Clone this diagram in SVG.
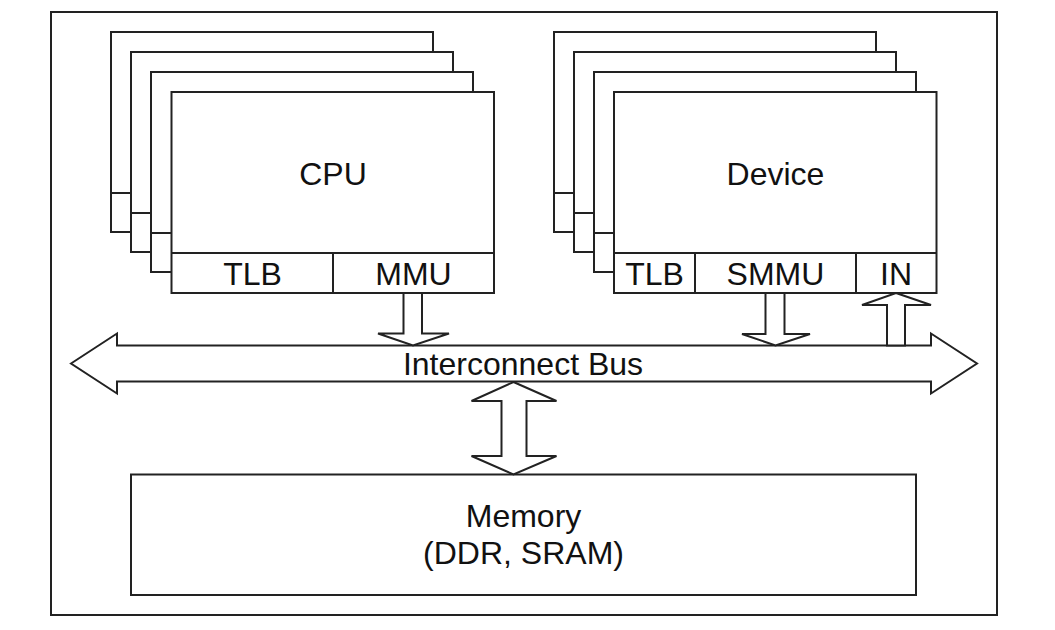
<svg xmlns="http://www.w3.org/2000/svg" width="1055" height="630" viewBox="0 0 1055 630">
<style>
.box{fill:#fff;stroke:#222;stroke-width:2}
.ln{stroke:#222;stroke-width:2;fill:none}
.arr{fill:#fff;stroke:#222;stroke-width:2;stroke-linejoin:miter}
.t{font-family:"Liberation Sans",Arial,sans-serif;font-size:32px;fill:#111;text-anchor:middle}
</style>
<rect width="1055" height="630" fill="#fff"/>
<rect id="frame" class="box" x="51" y="12" width="946" height="603"/>
<g id="cpu-stack">
<rect class="box" x="111" y="32" width="322" height="200"/><line class="ln" x1="111" y1="193" x2="433" y2="193"/>
<rect class="box" x="131" y="52" width="322" height="200"/><line class="ln" x1="131" y1="213" x2="453" y2="213"/>
<rect class="box" x="151" y="72" width="322" height="200"/><line class="ln" x1="151" y1="233" x2="473" y2="233"/>
</g>
<g id="cpu">
<rect class="box" x="171.5" y="92" width="322.5" height="201"/>
<line class="ln" x1="171.5" y1="253" x2="494" y2="253"/>
<line class="ln" x1="333" y1="253" x2="333" y2="293"/>
<text class="t" x="333" y="185">CPU</text>
<text class="t" x="252.5" y="285">TLB</text>
<text class="t" x="413.5" y="285">MMU</text>
</g>
<g id="device-stack">
<rect class="box" x="554" y="32" width="322" height="200"/><line class="ln" x1="554" y1="193" x2="876" y2="193"/>
<rect class="box" x="574" y="52" width="322" height="200"/><line class="ln" x1="574" y1="213" x2="896" y2="213"/>
<rect class="box" x="594" y="72" width="322" height="200"/><line class="ln" x1="594" y1="233" x2="916" y2="233"/>
</g>
<g id="device">
<rect class="box" x="614" y="92" width="322.5" height="201"/>
<line class="ln" x1="614" y1="253" x2="936.5" y2="253"/>
<line class="ln" x1="695" y1="253" x2="695" y2="293"/>
<line class="ln" x1="856" y1="253" x2="856" y2="293"/>
<text class="t" x="775.5" y="185">Device</text>
<text class="t" x="654.5" y="285">TLB</text>
<text class="t" x="775.5" y="285">SMMU</text>
<text class="t" x="896" y="285">IN</text>
</g>
<g id="bus">
<polygon class="arr" points="71,363.5 117,333.5 117,345.5 931,345.5 931,333.5 977,363.5 931,393.5 931,381.5 117,381.5 117,393.5"/>
<text class="t" x="523" y="375">Interconnect Bus</text>
</g>
<g id="memory">
<rect class="box" x="131" y="474.5" width="785" height="120.5"/>
<text class="t" x="523.5" y="527">Memory</text>
<text class="t" x="523.5" y="564">(DDR, SRAM)</text>
</g>
<g id="connectors">
<polygon class="arr" points="403.5,293 422,293 422,333.5 449,333.5 413,345.5 378,333.5 403.5,333.5"/>
<polygon class="arr" points="765.5,293 784.5,293 784.5,334 810,334 775.5,345.5 742,334 765.5,334"/>
<polygon class="arr" points="896,293 931,305 905,305 905,345.5 887,345.5 887,305 862,305"/>
<polygon class="arr" points="513.5,382 556.5,401 526.5,401 526.5,456 556.5,456 513.5,474.5 471.5,456 501.5,456 501.5,401 471.5,401"/>
</g>
</svg>
